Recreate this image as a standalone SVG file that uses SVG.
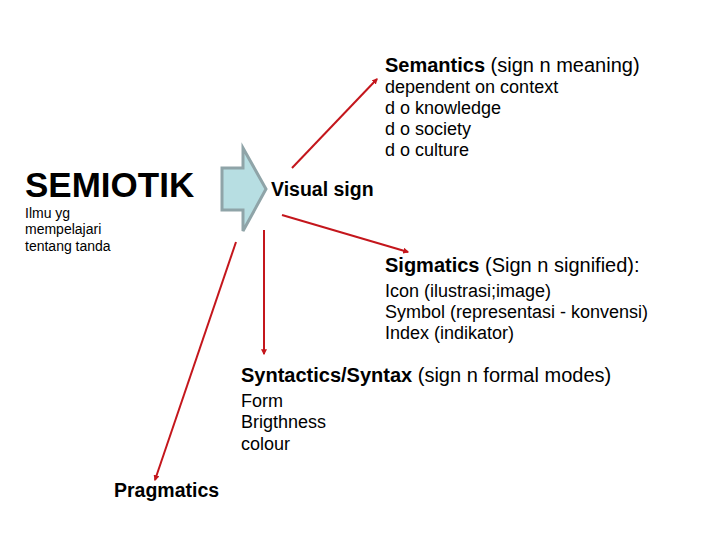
<svg xmlns="http://www.w3.org/2000/svg" width="720" height="540" viewBox="0 0 720 540">
<style>
text{font-family:"Liberation Sans",Arial,sans-serif;fill:#000}
.t{font-size:20px}
.s{font-size:18px}
.b{font-weight:bold}
.c{stroke:#c4161c;stroke-width:2;fill:none;marker-end:url(#ah)}
</style>
<defs>
<marker id="ah" viewBox="0 0 10 10" refX="8" refY="5" markerWidth="3" markerHeight="3" orient="auto">
<path d="M0,0 L10,5 L0,10 z" fill="#c4161c"/>
</marker>
</defs>
<rect width="720" height="540" fill="#fff"/>
<g id="semiotik">
<text x="25" y="197" class="b" style="font-size:35px">SEMIOTIK</text>
<text x="25" y="218" style="font-size:14px">Ilmu yg</text>
<text x="25" y="234" style="font-size:14px">mempelajari</text>
<text x="25" y="251" style="font-size:14px">tentang tanda</text>
</g>
<g id="block-arrow">
<polygon points="222,168 243,168 243,148 266,189 243,231 243,210 222,210" fill="#b7dee2" stroke="#8fa4a8" stroke-width="3" stroke-linejoin="miter"/>
</g>
<g id="visual-sign">
<text x="271" y="196" class="b" style="font-size:19.5px">Visual sign</text>
</g>
<g id="semantics">
<text x="385" y="72" class="t"><tspan class="b">Semantics</tspan> (sign n meaning)</text>
<text x="385" y="93" class="s">dependent on context</text>
<text x="385" y="114" class="s">d o knowledge</text>
<text x="385" y="135" class="s">d o society</text>
<text x="385" y="156" class="s">d o culture</text>
</g>
<g id="sigmatics">
<text x="385" y="272" class="t"><tspan class="b">Sigmatics</tspan> (Sign n signified):</text>
<text x="385" y="297" class="s">Icon (ilustrasi;image)</text>
<text x="385" y="318" class="s">Symbol (representasi - konvensi)</text>
<text x="385" y="339" class="s">Index (indikator)</text>
</g>
<g id="syntactics">
<text x="241" y="382" class="t"><tspan class="b">Syntactics/Syntax</tspan> (sign n formal modes)</text>
<text x="241" y="407" class="s">Form</text>
<text x="241" y="428" class="s">Brigthness</text>
<text x="241" y="450" class="s">colour</text>
</g>
<g id="pragmatics">
<text x="114" y="497" class="b" style="font-size:19.5px">Pragmatics</text>
</g>
<g id="connectors">
<line x1="292" y1="168" x2="377" y2="79" class="c"/>
<line x1="282" y1="215" x2="408" y2="252" class="c"/>
<line x1="264" y1="230" x2="264" y2="354" class="c"/>
<line x1="236" y1="242" x2="155" y2="480" class="c"/>
</g>
</svg>
